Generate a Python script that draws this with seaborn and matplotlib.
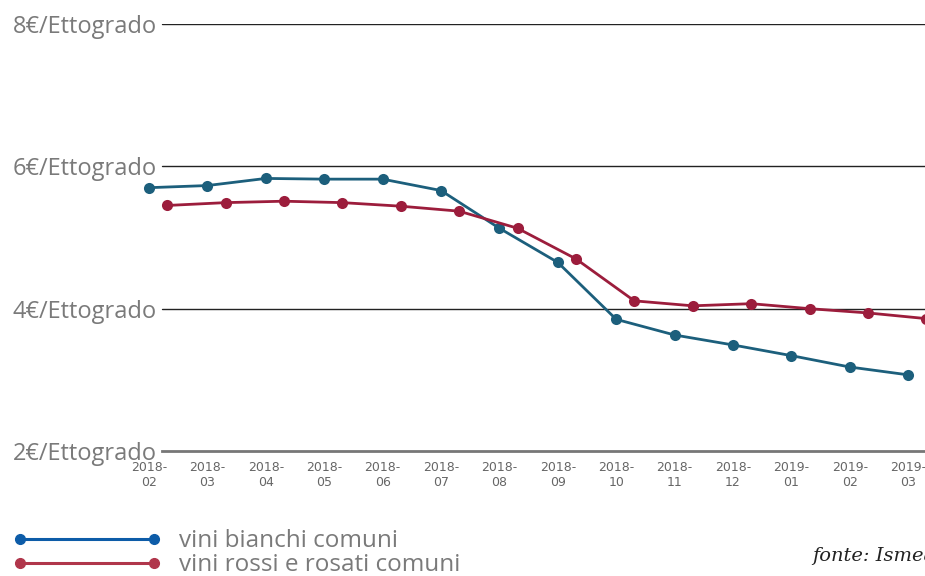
import numpy as np
import pandas as pd
import matplotlib.pyplot as plt
import seaborn as sns
from matplotlib.lines import Line2D

# Data (euro per ettogrado)
months = ['2018-\n02', '2018-\n03', '2018-\n04', '2018-\n05', '2018-\n06', '2018-\n07',
          '2018-\n08', '2018-\n09', '2018-\n10', '2018-\n11', '2018-\n12', '2019-\n01',
          '2019-\n02', '2019-\n03']
bianchi = [5.70, 5.73, 5.83, 5.82, 5.82, 5.66, 5.13, 4.65, 3.85, 3.63, 3.49, 3.34, 3.18, 3.07]
rossi = [5.45, 5.49, 5.51, 5.49, 5.44, 5.37, 5.13, 4.70, 4.11, 4.04, 4.07, 4.00, 3.94, 3.86]
y_ticks = [2, 4, 6, 8]
y_labels = ['2€/Ettogrado', '4€/Ettogrado', '6€/Ettogrado', '8€/Ettogrado']

blue_line = '#1c5f7c'
red_line = '#9c1d3c'
blue_leg = '#0d5ca8'
red_leg = '#b0364b'
grey_txt = '#7a7a7a'

pos = np.arange(len(months))
df_b = pd.DataFrame({'x': pos, 'y': bianchi})
# the red series is drawn slightly shifted to the right in the original
df_r = pd.DataFrame({'x': pos + 0.31, 'y': rossi})

sns.set_style('white')
plt.rcParams['font.family'] = ['Open Sans', 'DejaVu Sans']

# axes start a bit left of the grid so the first tick label is kept
left_px, grid_px, step = 120, 162, 58.4
fig = plt.figure(figsize=(9.25, 5.76), dpi=100)
ax = fig.add_axes([left_px / 925, 1 - 451 / 576, 1 - left_px / 925, (451 - 24) / 576])

sns.lineplot(data=df_b, x='x', y='y', ax=ax, color=blue_line, lw=2.0,
             marker='o', markersize=8, markeredgewidth=0, clip_on=False, zorder=3)
sns.lineplot(data=df_r, x='x', y='y', ax=ax, color=red_line, lw=2.0,
             marker='o', markersize=8, markeredgewidth=0, clip_on=False, zorder=3)

gx = (grid_px - left_px) / (925 - left_px)
for v in y_ticks[1:]:
    ax.axhline(v, xmin=gx, color='#222222', lw=1.0, zorder=1)

for s in ['top', 'right', 'left']:
    ax.spines[s].set_visible(False)
ax.spines['bottom'].set_color('#777777')
ax.spines['bottom'].set_linewidth(2.0)

ax.set_yticks(y_ticks)
ax.set_yticklabels(y_labels, fontsize=17, color=grey_txt)
ax.set_xticks(pos)
ax.set_xticklabels(months, fontsize=9, color='#666666', family='DejaVu Sans',
                   linespacing=1.25)
# negative pad pushes y labels right, ending just before the grid lines
ax.tick_params(axis='y', length=0, pad=-(grid_px - 5 - left_px) * 0.72)
ax.tick_params(axis='x', length=0, pad=7)
ax.set_xlabel('')
ax.set_ylabel('')
ax.set_xlim((left_px - 149) / step, (925 - 149) / step)
ax.set_ylim(2, 8)
ax.spines['bottom'].set_bounds((grid_px - 149) / step, (925 - 149) / step)

handles = [Line2D([0], [0], color=blue_leg, lw=2.2, marker='o', markersize=7),
           Line2D([0], [0], color=red_leg, lw=2.2, marker='o', markersize=7)]
fig.legend(handles, ['vini bianchi comuni', 'vini rossi e rosati comuni'],
           loc='lower left', bbox_to_anchor=(-0.01, -0.04), numpoints=2,
           handlelength=6.1, handletextpad=0.75, labelspacing=0.0,
           frameon=False, fontsize=17.5, labelcolor=grey_txt)

fig.text(812 / 925, 1 - 556 / 576, 'fonte: Ismea', fontsize=14, style='italic',
         family='DejaVu Serif', color='#222222', va='center', ha='left')

fig.savefig('out.png', dpi=100)
